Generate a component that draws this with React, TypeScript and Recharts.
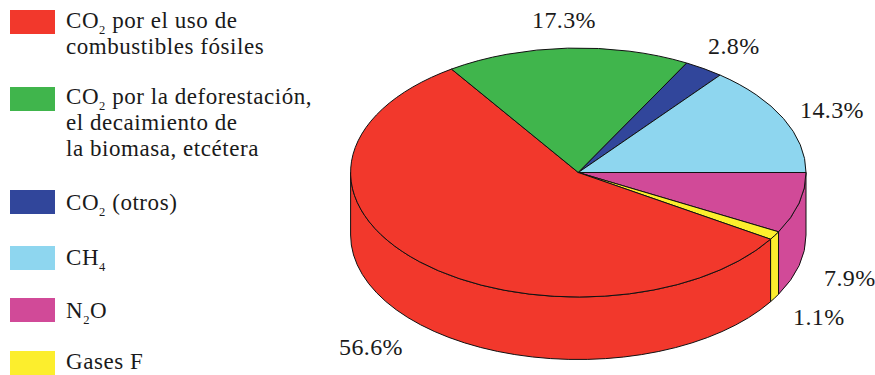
import React from 'react';
import { PieChart, Pie, Cell } from 'recharts';

// Slice order runs clockwise from the east edge of the disc
const gases = ['N2O', 'Gases F', 'CO2 fósil', 'CO2 deforestación', 'CO2 otros', 'CH4'];
const shares = [7.9, 1.1, 56.6, 17.3, 2.8, 14.3];
const sliceColors = ['#d14a98', '#fcee2d', '#f2382c', '#40b54c', '#31469b', '#8ed6ef'];

// Legend text; _n marks a subscript digit
const legendLines = [
  ['CO_2 por el uso de', 'combustibles fósiles'],
  ['CO_2 por la deforestación,', 'el decaimiento de', 'la biomasa, etcétera'],
  ['CO_2 (otros)'],
  ['CH_4'],
  ['N_2O'],
  ['Gases F'],
];
const legendColors = ['#f2382c', '#40b54c', '#31469b', '#8ed6ef', '#d14a98', '#fcee2d'];

const WIDTH = 875;
const HEIGHT = 375;
const CX = 578.3;
const CY = 172.5;
const RX = 227.7;
const RY = 124.5;
const DEPTH = 62.5;
const FONT = '"Liberation Serif", serif';

const swatchTops = [10, 87, 190, 246, 298, 351];
const legendBaselines = [28.5, 104.5, 210.5, 266, 318.5, 370];
const LINE_GAP = 26.3;

// Anchor of each percentage label, same order as the slices
const labelSpots = [
  [824, 286],
  [793, 325],
  [339, 354.5],
  [532, 28],
  [708, 54],
  [800, 117.5],
];

const ellipsePoint = (deg: number, dy = 0) => {
  const rad = (deg * Math.PI) / 180;
  return [CX + RX * Math.cos(rad), CY + RY * Math.sin(rad) + dy];
};

// Elliptical slice plus its rim wall, driven by the angles Pie computes
function DiscSlice(props: any) {
  const { startAngle, endAngle, fill } = props;
  const a = -startAngle;
  const b = -endAngle;
  const [x1, y1] = ellipsePoint(a);
  const [x2, y2] = ellipsePoint(b);
  const large = b - a > 180 ? 1 : 0;
  const wallEnd = Math.min(b, 180);
  let wall = null;
  if (a < 180) {
    const [wx1, wy1] = ellipsePoint(a);
    const [wx2, wy2] = ellipsePoint(wallEnd);
    wall = (
      <path
        d={`M${wx1},${wy1} A${RX},${RY} 0 0 1 ${wx2},${wy2} L${wx2},${wy2 + DEPTH} A${RX},${RY} 0 0 0 ${wx1},${wy1 + DEPTH} Z`}
        fill={fill}
        stroke="#111"
        strokeWidth={1}
        strokeLinejoin="round"
      />
    );
  }
  return (
    <g>
      {wall}
      <path
        d={`M${CX},${CY} L${x1},${y1} A${RX},${RY} 0 ${large} 1 ${x2},${y2} Z`}
        fill={fill}
        stroke="#111"
        strokeWidth={1}
        strokeLinejoin="round"
      />
    </g>
  );
}

function ShareLabel({ index, value }: any) {
  const [x, y] = labelSpots[index];
  return (
    <text x={x} y={y} fontFamily={FONT} fontSize={24} letterSpacing={0.4} fill="#1a1a1a">
      {`${value}%`}
    </text>
  );
}

function LegendLine({ text }: { text: string }) {
  const parts = text.split(/_(\d)/);
  return (
    <>
      {parts.map((part, i) =>
        i % 2 === 1 ? (
          <span key={i} style={{ fontSize: 12.5, position: 'relative', top: 6, lineHeight: 0 }}>
            {part}
          </span>
        ) : (
          <span key={i}>{part}</span>
        ),
      )}
    </>
  );
}

function GasLegend() {
  return (
    <>
      {legendLines.map((lines, i) => (
        <React.Fragment key={i}>
          <div
            style={{
              position: 'absolute',
              left: 10,
              top: swatchTops[i],
              width: 45,
              height: 24,
              background: legendColors[i],
            }}
          />
          {lines.map((line, j) => (
            <div
              key={j}
              style={{
                position: 'absolute',
                left: 66,
                top: legendBaselines[i] + j * LINE_GAP - 21,
                height: 26,
                lineHeight: '26px',
                whiteSpace: 'pre',
                fontFamily: FONT,
                fontSize: 23,
                letterSpacing: 0.55,
                color: '#1a1a1a',
              }}
            >
              <LegendLine text={line} />
            </div>
          ))}
        </React.Fragment>
      ))}
    </>
  );
}

const chartData = gases.map((name, i) => ({ name, value: shares[i] }));

export default function App() {
  return (
    <div style={{ position: 'absolute', left: 0, top: 0, width: WIDTH, height: HEIGHT, background: '#fff' }}>
      <PieChart width={WIDTH} height={HEIGHT} margin={{ top: 0, right: 0, bottom: 0, left: 0 }}>
        <Pie
          data={chartData}
          dataKey="value"
          nameKey="name"
          cx={CX}
          cy={CY}
          innerRadius={0}
          outerRadius={RX}
          startAngle={0}
          endAngle={-360}
          paddingAngle={0}
          shape={DiscSlice}
          label={ShareLabel}
          labelLine={false}
          isAnimationActive={false}
        >
          {chartData.map((d, i) => (
            <Cell key={d.name} fill={sliceColors[i]} />
          ))}
        </Pie>
      </PieChart>
      <GasLegend />
    </div>
  );
}
